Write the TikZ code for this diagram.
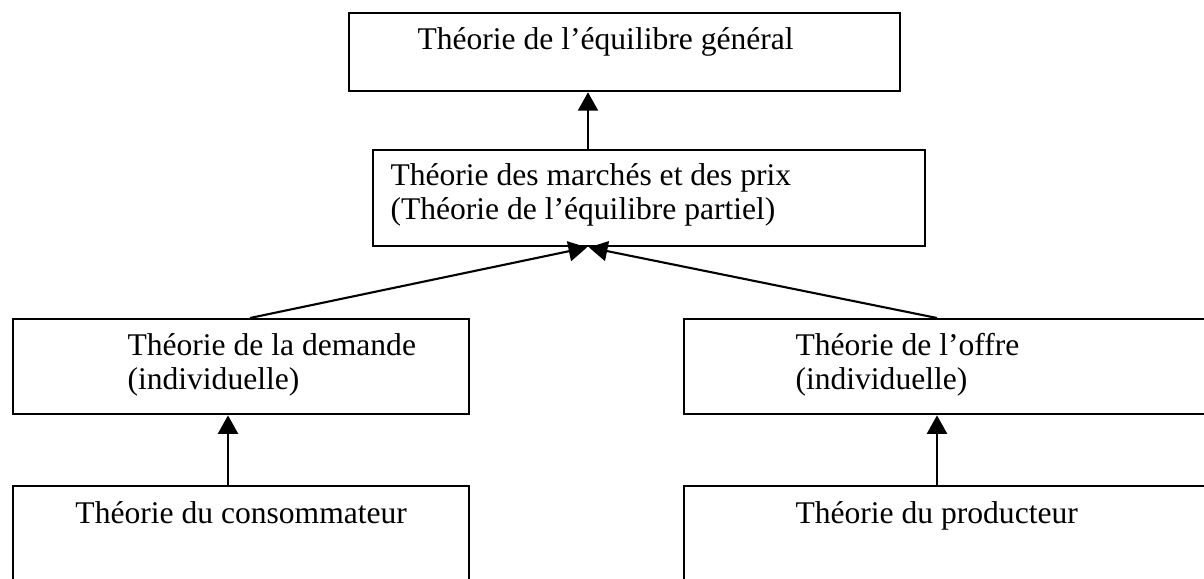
\documentclass[tikz,border=0pt]{standalone}
\usepackage{fontspec}
\setmainfont{Liberation Serif}
\usetikzlibrary{arrows.meta,calc,positioning}

\begin{document}
\begin{tikzpicture}[x=0.38pt, y=-0.38pt]
        \tikzstyle{block} = [rectangle, draw, line width=0.9pt, anchor=north west, inner sep=0pt]
        \tikzstyle{boxtext} = [anchor=base west, inner sep=0pt, align=left, font=\fontsize{12}{13}\selectfont]
        \tikzstyle{line} = [draw, line width=0.8pt, -{Triangle[length=7pt, width=7.6pt]}]

    \useasboundingbox (0,0) rectangle (1204,579);
    \clip (0,0) rectangle (1204,579);

    \node [block, minimum width=209.4pt, minimum height=29.6pt] (general) at (348,12) {};
    \node [block, minimum width=209.8pt, minimum height=36.5pt] (marches) at (372,149) {};
    \node [block, minimum width=173.3pt, minimum height=36.1pt] (demande) at (12,318) {};
    \node [block, minimum width=205.2pt, minimum height=36.1pt] (offre) at (683,318) {};
    \node [block, minimum width=173.3pt, minimum height=41.8pt] (consommateur) at (12,485) {};
    \node [block, minimum width=205.2pt, minimum height=41.8pt] (producteur) at (683,485) {};

    % two-line texts sit on the baseline of their last line
    \node [boxtext] (general text) at ($(general.north west)+(69,38)$) {Théorie de l’équilibre général};
    \node [boxtext] (marches text) at ($(marches.north west)+(18,71)$) {Théorie des marchés et des prix\\(Théorie de l’équilibre partiel)};
    \node [boxtext] (demande text) at ($(demande.north west)+(115,72)$) {Théorie de la demande\\(individuelle)};
    \node [boxtext] (offre text) at ($(offre.north west)+(112,72)$) {Théorie de l’offre\\(individuelle)};
    \node [boxtext, anchor=base] (consommateur text) at ($(consommateur.north)+(0,38)$) {Théorie du consommateur};
    \node [boxtext] (producteur text) at ($(producteur.north west)+(112,38)$) {Théorie du producteur};

    \path [line] ($(marches.north west)+(216,0)$) -- ($(general.south west)+(240,0)$);
    \path [line] ($(demande.north west)+(238,0)$) -- ($(marches.south west)+(215,0)$);
    \path [line] ($(offre.north west)+(254,0)$) -- ($(marches.south west)+(217,0)$);
    \path [line] ($(consommateur.north west)+(216,0)$) -- ($(demande.south west)+(216,0)$);
    \path [line] ($(producteur.north west)+(254,0)$) -- ($(offre.south west)+(254,0)$);
    \end{tikzpicture}
\end{document}
